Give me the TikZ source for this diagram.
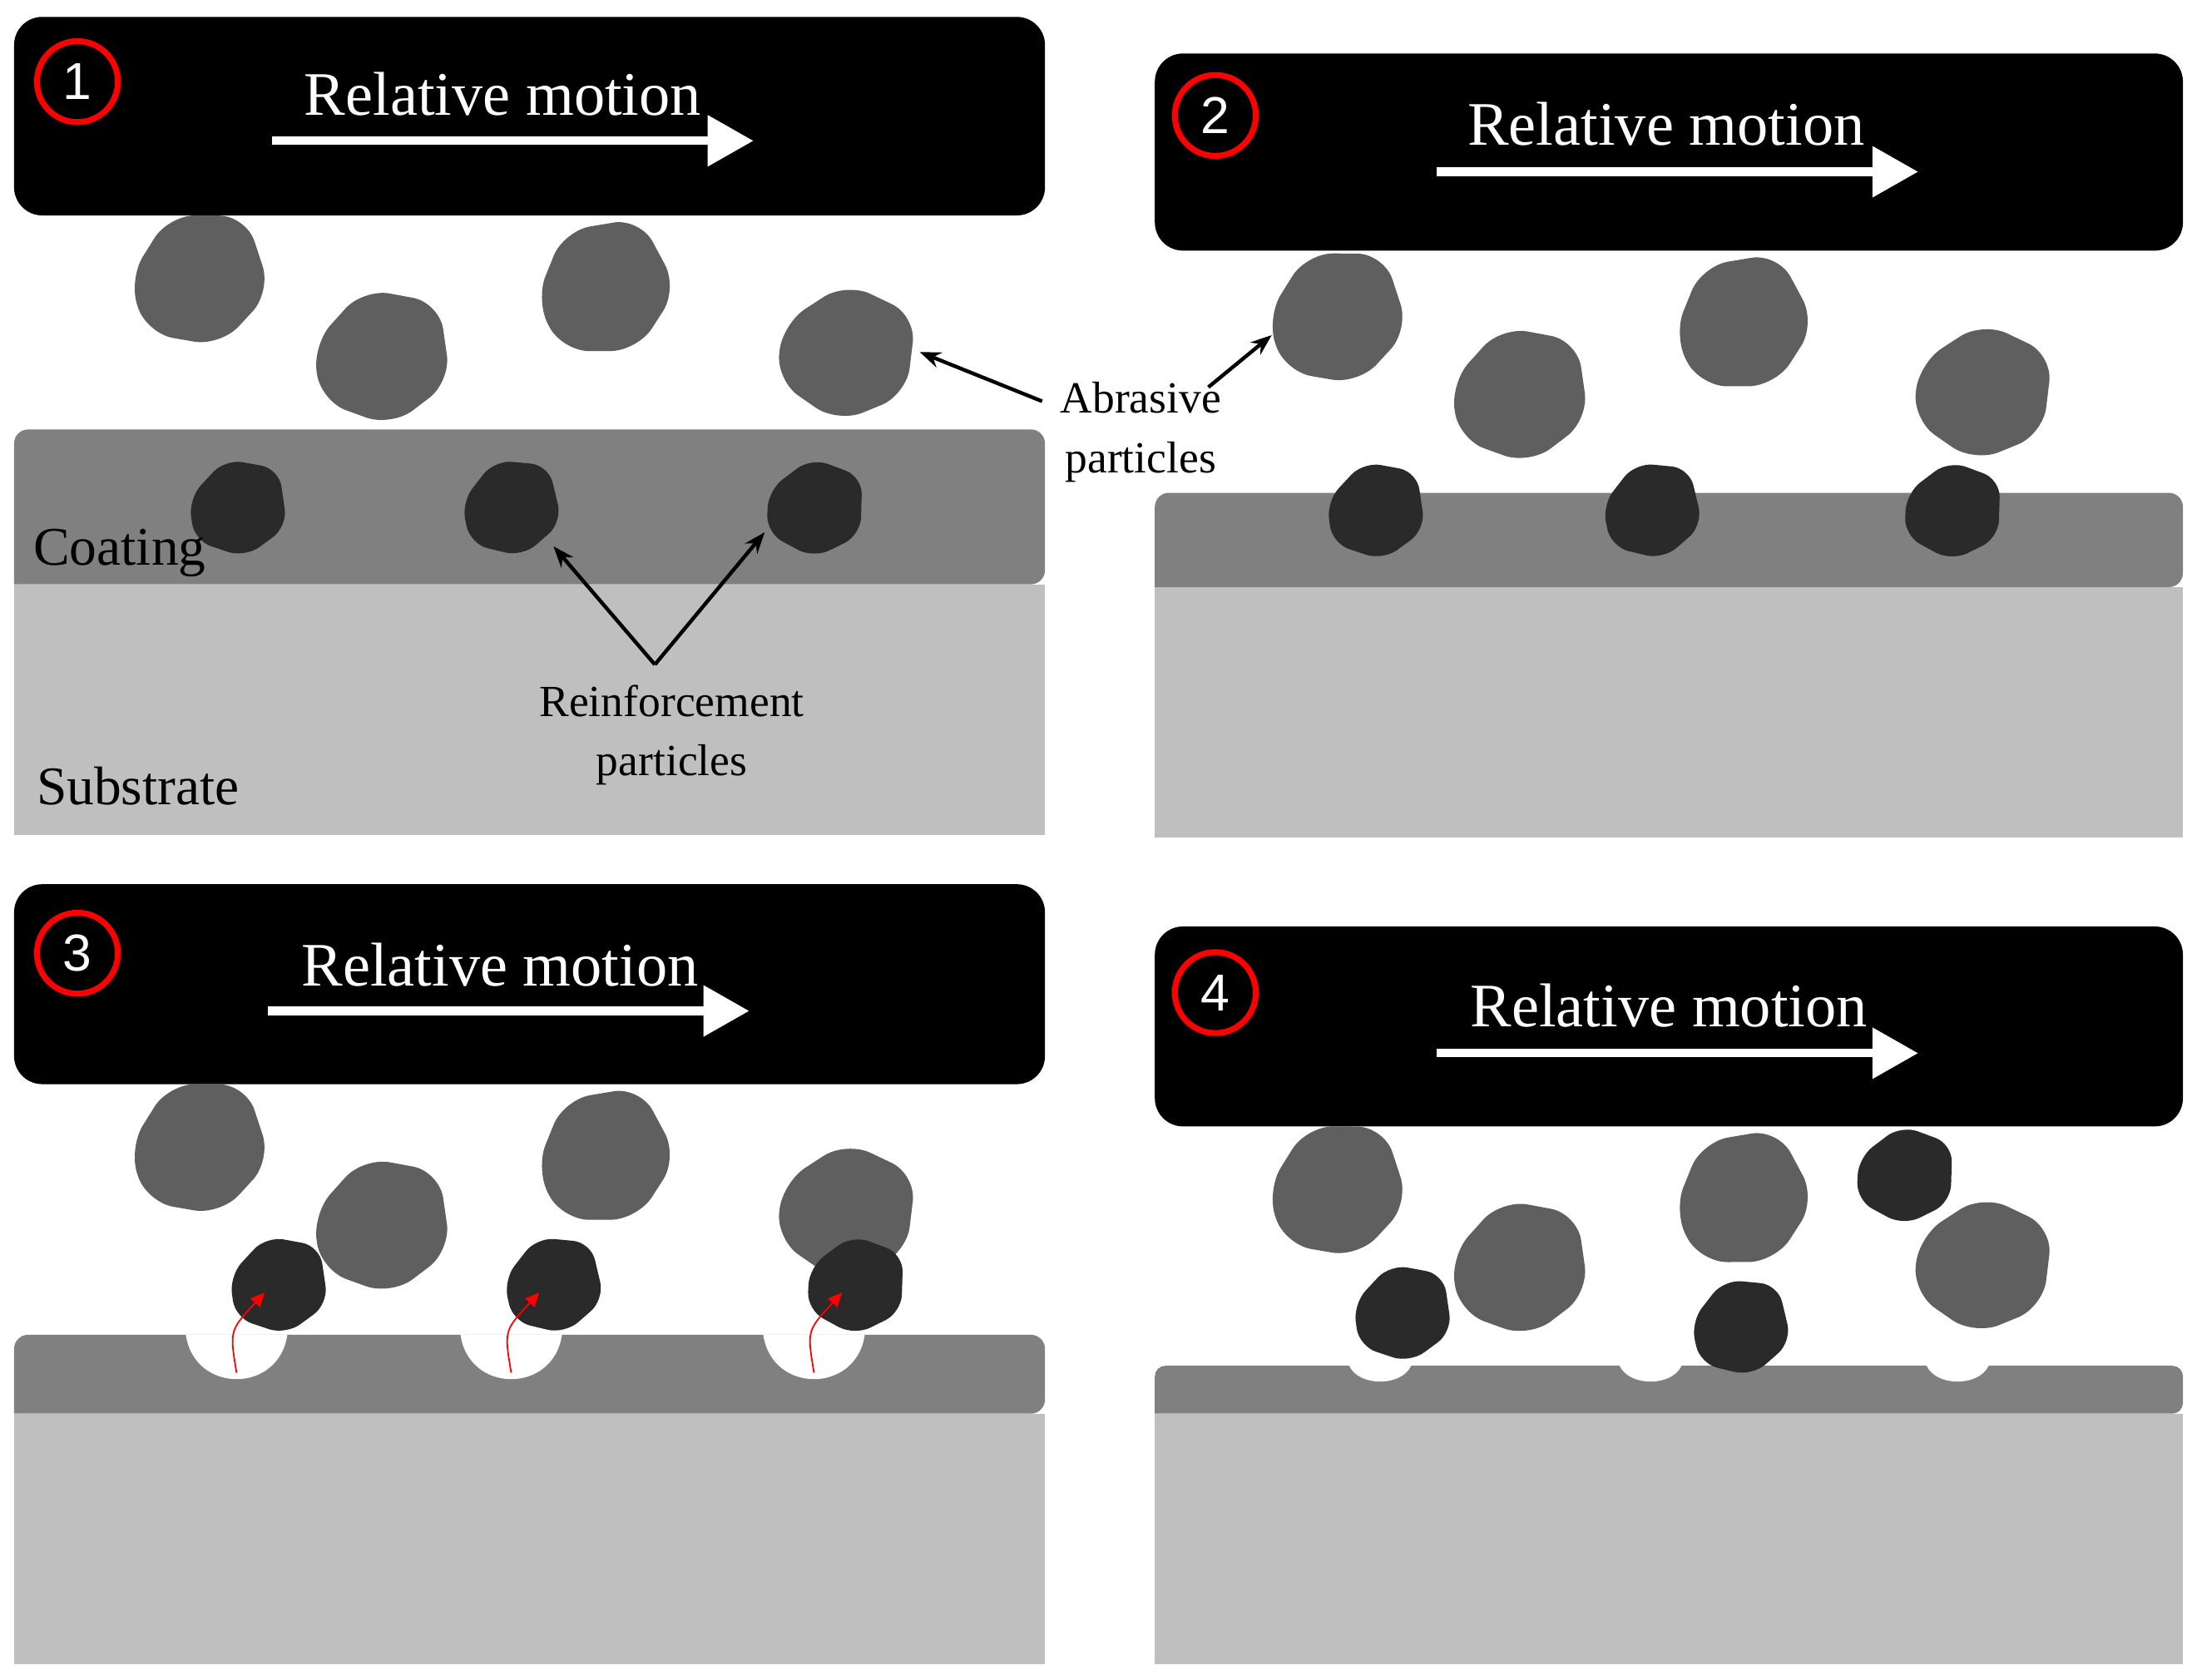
\documentclass[tikz,border=0pt]{standalone}
\usepackage{fontspec}
\setmainfont{Liberation Serif}
\newfontfamily\sansf{Liberation Sans}
\usetikzlibrary{arrows.meta}
\definecolor{abr}{HTML}{5F5F5F}
\definecolor{rein}{HTML}{2A2A2A}
\definecolor{coat}{HTML}{808080}
\definecolor{subs}{HTML}{BFBFBF}
\begin{document}
\begin{tikzpicture}[x=0.02cm,y=-0.02cm,
  box/.style={fill=black,rounded corners=0.4cm},
  num/.style={circle,draw=red,line width=2.4pt,minimum size=1.15cm,inner sep=0pt,text=white,font=\sansf\fontsize{21}{21}\selectfont},
  rel/.style={text=white,font=\fontsize{25}{25}\selectfont},
  motion/.style={draw=white,line width=3.4pt,-{Triangle[length=0.65cm,width=0.7cm]}},
  lab/.style={font=\fontsize{22}{24}\selectfont,align=center},
  slab/.style={font=\fontsize{18}{24}\selectfont,align=center},
  larr/.style={line width=1.5pt,-{Stealth[length=0.3cm]}},
  red arr/.style={draw=red,line width=0.6pt,-{Triangle[length=0.2cm,width=0.18cm]}}]
\useasboundingbox (0,0) rectangle (1560,1193);
\fill[white] (0,0) rectangle (1560,1193);
\newcommand{\AbP}[3]{\fill[abr,rounded corners=0.38cm,rotate around={#3:(#1,#2)}] (#1-48,#2-8) -- (#1-12,#2-48) -- (#1+42,#2-38) -- (#1+50,#2+18) -- (#1+8,#2+50) -- (#1-42,#2+32) -- cycle;}
\newcommand{\ReP}[3]{\fill[rein,rounded corners=0.25cm,rotate around={#3:(#1,#2)}] (#1-34,#2-6) -- (#1-8,#2-34) -- (#1+30,#2-27) -- (#1+36,#2+14) -- (#1+6,#2+36) -- (#1-30,#2+24) -- cycle;}
% ---------- panel 1
\fill[subs] (10,415) rectangle (742,593);
\fill[coat,rounded corners=0.2cm] (10,415) -- (10,305) -- (742,305) -- (742,415) [sharp corners]-- cycle;
\fill[box] (10,12) rectangle (742,153);
\node[num] (n1) at (55,58) {1};
\node[rel] (r1) at (357,67) {Relative motion};
\coordinate (a1s) at (193,100); \coordinate (a1e) at (535,100);
\draw[motion] (a1s) -- (a1e);
\AbP{140}{198}{10}\AbP{270}{253}{0}\AbP{428}{205}{20}\AbP{600}{250}{-15}
\ReP{168}{360}{0}\ReP{362}{360}{5}\ReP{578}{360}{-10}
\node[lab] (coat) at (85,393) {Coating};
\node[lab] (subs) at (98,558) {Substrate};
\node[slab] (rp) at (477,522) {Reinforcement\\particles};
\coordinate (rpj) at (465,472);
\coordinate (rt1) at (393,388); \coordinate (rt2) at (543,378);
\draw[larr] (rpj) -- (rt1); \draw[larr] (rpj) -- (rt2);
\node[slab] (ap) at (810,307) {Abrasive\\particles};
\coordinate (ap1) at (740,285); \coordinate (apt1) at (653,250);
\coordinate (ap2) at (858,275); \coordinate (apt2) at (903,238);
\draw[larr] (ap1) -- (apt1); \draw[larr] (ap2) -- (apt2);
% ---------- panel 2
\fill[subs] (820,417) rectangle (1550,595);
\fill[coat,rounded corners=0.2cm] (820,417) -- (820,350) -- (1550,350) -- (1550,417) [sharp corners]-- cycle;
\fill[box] (820,38) rectangle (1550,178);
\node[num] (n2) at (863,82) {2};
\node[rel] (r2) at (1183,88) {Relative motion};
\coordinate (a2s) at (1020,122); \coordinate (a2e) at (1362,122);
\draw[motion] (a2s) -- (a2e);
\AbP{948}{225}{10}\AbP{1078}{280}{0}\AbP{1236}{230}{20}\AbP{1407}{278}{-15}
\ReP{976}{362}{0}\ReP{1172}{362}{5}\ReP{1386}{362}{-10}
% ---------- panel 3
\fill[subs] (10,1004) rectangle (742,1182);
\fill[coat,rounded corners=0.2cm] (10,1004) -- (10,948) -- (742,948) -- (742,1004) [sharp corners]-- cycle;
\foreach \x in {168,363,578}{\fill[white] (\x-36,948) .. controls (\x-30,990) and (\x+30,990) .. (\x+36,948) -- cycle;}
\fill[box] (10,628) rectangle (742,770);
\node[num] (n3) at (55,677) {3};
\node[rel] (r3) at (355,685) {Relative motion};
\coordinate (a3s) at (190,718); \coordinate (a3e) at (532,718);
\draw[motion] (a3s) -- (a3e);
\AbP{140}{815}{10}\AbP{270}{870}{0}\AbP{428}{822}{20}\AbP{600}{860}{-15}
\ReP{197}{912}{0}\ReP{392}{912}{5}\ReP{607}{912}{-10}
\foreach \x in {0,195,410}{\draw[red arr] (168+\x,975) .. controls (163+\x,945) .. (188+\x,918);}
% ---------- panel 4
\fill[subs] (820,1004) rectangle (1550,1182);
\fill[coat,rounded corners=0.15cm] (820,1004) -- (820,970) -- (1550,970) -- (1550,1004) [sharp corners]-- cycle;
\foreach \x in {980,1172,1390}{\fill[white] (\x-22,970) .. controls (\x-15,985) and (\x+15,985) .. (\x+22,970) -- cycle;}
\fill[box] (820,658) rectangle (1550,800);
\node[num] (n4) at (863,705) {4};
\node[rel] (r4) at (1185,714) {Relative motion};
\coordinate (a4s) at (1020,748); \coordinate (a4e) at (1362,748);
\draw[motion] (a4s) -- (a4e);
\AbP{948}{845}{10}\AbP{1078}{900}{0}\AbP{1236}{852}{20}\AbP{1407}{898}{-15}
\ReP{995}{932}{0}\ReP{1235}{942}{5}\ReP{1352}{834}{-10}
\end{tikzpicture}
\end{document}
